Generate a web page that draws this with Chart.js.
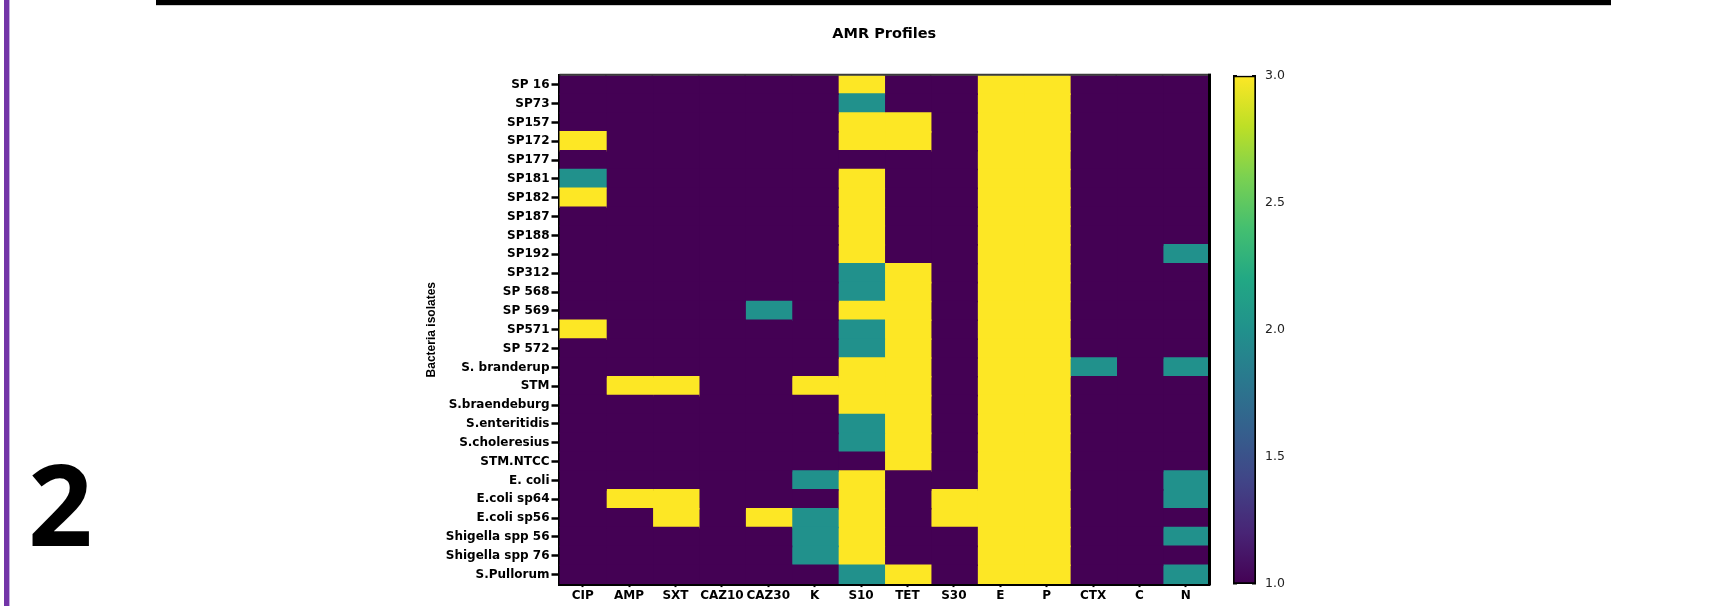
<!DOCTYPE html>
<html>
<head>
<meta charset="utf-8">
<title>AMR Profiles</title>
<script src="https://cdn.jsdelivr.net/npm/chart.js@4.4.1/dist/chart.umd.min.js"></script>
<style>
  html, body { margin: 0; padding: 0; background: #fff; }
  body { position: relative; width: 1722px; height: 606px; overflow: hidden; }
  .topbar { position: absolute; left: 156px; top: 0; width: 1455px; height: 5px; background: #000; border-bottom: 1px solid #d0d0d0; }
  .sidebar { position: absolute; left: 4px; top: 0; width: 5px; height: 606px; background: #7335a8; border-right: 1px solid #c3aee0; }
  .panel-no { position: absolute; left: 28px; top: 445px; font: 700 113px/115px "Open Sans", sans-serif; color: #000; }
  #heatmap { position: absolute; left: 0; top: 0; }
  #scale { position: absolute; left: 1200px; top: 0; }
</style>
</head>
<body>
<div class="topbar"></div>
<div class="sidebar"></div>
<div class="panel-no">2</div>
<canvas id="heatmap" width="1722" height="606"></canvas>
<canvas id="scale" width="120" height="606"></canvas>
<script>
// Rows: isolates, top to bottom
const isolates = [
    'SP 16', 'SP73', 'SP157', 'SP172', 'SP177', 'SP181', 'SP182', 'SP187', 'SP188',
    'SP192', 'SP312', 'SP 568', 'SP 569', 'SP571', 'SP 572', 'S. branderup', 'STM',
    'S.braendeburg', 'S.enteritidis', 'S.choleresius', 'STM.NTCC', 'E. coli',
    'E.coli sp64', 'E.coli sp56', 'Shigella spp 56', 'Shigella spp 76', 'S.Pullorum'
];

// Columns: antibiotic discs
const antibiotics = ['CIP', 'AMP', 'SXT', 'CAZ10', 'CAZ30', 'K', 'S10', 'TET', 'S30', 'E', 'P', 'CTX', 'C', 'N'];

// Resistance level of each isolate, one entry per antibiotic (same order as above)
const profiles = [
    [1, 1, 1, 1, 1, 1, 3, 1, 1, 3, 3, 1, 1, 1], // SP 16
    [1, 1, 1, 1, 1, 1, 2, 1, 1, 3, 3, 1, 1, 1], // SP73
    [1, 1, 1, 1, 1, 1, 3, 3, 1, 3, 3, 1, 1, 1], // SP157
    [3, 1, 1, 1, 1, 1, 3, 3, 1, 3, 3, 1, 1, 1], // SP172
    [1, 1, 1, 1, 1, 1, 1, 1, 1, 3, 3, 1, 1, 1], // SP177
    [2, 1, 1, 1, 1, 1, 3, 1, 1, 3, 3, 1, 1, 1], // SP181
    [3, 1, 1, 1, 1, 1, 3, 1, 1, 3, 3, 1, 1, 1], // SP182
    [1, 1, 1, 1, 1, 1, 3, 1, 1, 3, 3, 1, 1, 1], // SP187
    [1, 1, 1, 1, 1, 1, 3, 1, 1, 3, 3, 1, 1, 1], // SP188
    [1, 1, 1, 1, 1, 1, 3, 1, 1, 3, 3, 1, 1, 2], // SP192
    [1, 1, 1, 1, 1, 1, 2, 3, 1, 3, 3, 1, 1, 1], // SP312
    [1, 1, 1, 1, 1, 1, 2, 3, 1, 3, 3, 1, 1, 1], // SP 568
    [1, 1, 1, 1, 2, 1, 3, 3, 1, 3, 3, 1, 1, 1], // SP 569
    [3, 1, 1, 1, 1, 1, 2, 3, 1, 3, 3, 1, 1, 1], // SP571
    [1, 1, 1, 1, 1, 1, 2, 3, 1, 3, 3, 1, 1, 1], // SP 572
    [1, 1, 1, 1, 1, 1, 3, 3, 1, 3, 3, 2, 1, 2], // S. branderup
    [1, 3, 3, 1, 1, 3, 3, 3, 1, 3, 3, 1, 1, 1], // STM
    [1, 1, 1, 1, 1, 1, 3, 3, 1, 3, 3, 1, 1, 1], // S.braendeburg
    [1, 1, 1, 1, 1, 1, 2, 3, 1, 3, 3, 1, 1, 1], // S.enteritidis
    [1, 1, 1, 1, 1, 1, 2, 3, 1, 3, 3, 1, 1, 1], // S.choleresius
    [1, 1, 1, 1, 1, 1, 1, 3, 1, 3, 3, 1, 1, 1], // STM.NTCC
    [1, 1, 1, 1, 1, 2, 3, 1, 1, 3, 3, 1, 1, 2], // E. coli
    [1, 3, 3, 1, 1, 1, 3, 1, 3, 3, 3, 1, 1, 2], // E.coli sp64
    [1, 1, 3, 1, 3, 2, 3, 1, 3, 3, 3, 1, 1, 1], // E.coli sp56
    [1, 1, 1, 1, 1, 2, 3, 1, 1, 3, 3, 1, 1, 2], // Shigella spp 56
    [1, 1, 1, 1, 1, 2, 3, 1, 1, 3, 3, 1, 1, 1], // Shigella spp 76
    [1, 1, 1, 1, 1, 1, 2, 3, 1, 3, 3, 1, 1, 2]  // S.Pullorum
];

// Colour bar range
const levelMin = 1;
const levelMax = 3;
const levelStep = 0.5;

// viridis colour map
const viridisStops = ['#440154', '#482475', '#414487', '#355f8d', '#2a788e', '#21918c',
                      '#22a884', '#44bf70', '#7ad151', '#bddf26', '#fde725'];

function hexToRgb(h) {
    return [1, 3, 5].map(i => parseInt(h.substr(i, 2), 16));
}

function viridis(t) {
    t = Math.min(1, Math.max(0, t));
    const pos = t * (viridisStops.length - 1);
    const i = Math.min(Math.floor(pos), viridisStops.length - 2);
    const f = pos - i;
    const a = hexToRgb(viridisStops[i]);
    const b = hexToRgb(viridisStops[i + 1]);
    const c = a.map((v, k) => Math.round(v + (b[k] - v) * f));
    return `rgb(${c[0]}, ${c[1]}, ${c[2]})`;
}

const levelColor = v => viridis((v - levelMin) / (levelMax - levelMin));

const tickFont = { family: 'DejaVu Sans', size: 12, weight: 'bold' };

// top and right edges of the plot frame
const frameEdges = {
    id: 'frameEdges',
    afterDraw(chart) {
        const { ctx, chartArea: a } = chart;
        ctx.save();
        ctx.lineWidth = 2;
        ctx.strokeStyle = '#3a3a3a';
        ctx.beginPath();
        ctx.moveTo(a.left, a.top - 0.5);
        ctx.lineTo(a.right + 2, a.top - 0.5);
        ctx.stroke();
        ctx.lineWidth = 3;
        ctx.strokeStyle = '#000';
        ctx.beginPath();
        ctx.moveTo(a.right + 0.5, a.top - 1.5);
        ctx.lineTo(a.right + 0.5, a.bottom + 1.5);
        ctx.stroke();
        ctx.restore();
    }
};

// Heatmap: one floating bar per cell, one dataset per antibiotic column
const heatmap = new Chart(document.getElementById('heatmap').getContext('2d'), {
    type: 'bar',
    data: {
        labels: isolates,
        datasets: antibiotics.map((name, c) => ({
            label: name,
            data: isolates.map(() => [c, c + 1]),
            backgroundColor: profiles.map(row => levelColor(row[c])),
            borderWidth: 0,
            inflateAmount: 0.8,
            grouped: false,
            barPercentage: 1,
            categoryPercentage: 1
        }))
    },
    options: {
        indexAxis: 'y',
        responsive: false,
        animation: false,
        layout: { padding: { left: 420, right: 513, top: 0, bottom: 0 } },
        plugins: {
            legend: { display: false },
            tooltip: { enabled: false },
            title: {
                display: true,
                text: 'AMR Profiles',
                fullSize: false,
                color: '#000',
                font: { family: 'DejaVu Sans', size: 14.5, weight: 'bold' },
                padding: { top: 25.3, bottom: 32.6 }
            }
        },
        scales: {
            x: {
                type: 'linear',
                min: 0,
                max: antibiotics.length,
                z: 1,
                afterBuildTicks: axis => {
                    axis.ticks = antibiotics.map((_, i) => ({ value: i + 0.5 }));
                },
                afterFit: axis => { axis.height = 21.9; },
                grid: { drawOnChartArea: false, tickLength: 3, tickWidth: 2, tickColor: '#000' },
                border: { color: '#000', width: 3 },
                ticks: {
                    autoSkip: false,
                    maxRotation: 0,
                    padding: 1.5,
                    color: '#000',
                    font: tickFont,
                    callback: (value, index) => antibiotics[index]
                }
            },
            y: {
                type: 'category',
                offset: true,
                z: 1,
                afterFit: axis => { axis.width = 139.5; },
                grid: { offset: false, drawOnChartArea: false, tickLength: 8, tickWidth: 2.5, tickColor: '#000' },
                border: { color: '#000', width: 3 },
                ticks: { autoSkip: false, padding: 2, color: '#000', font: tickFont },
                title: {
                    display: true,
                    text: 'Bacteria isolates',
                    color: '#000',
                    font: { family: 'Liberation Sans', size: 12, weight: 'bold' },
                    padding: { top: 4.3, bottom: 0 }
                }
            }
        }
    },
    plugins: [frameEdges]
});

// Colour bar: a single floating bar spanning the level range
function barGradient(context) {
    const area = context.chart.chartArea;
    if (!area) return levelColor(levelMin);
    const g = context.chart.ctx.createLinearGradient(0, area.bottom, 0, area.top);
    viridisStops.forEach((col, i) => g.addColorStop(i / (viridisStops.length - 1), col));
    return g;
}

const colorScale = new Chart(document.getElementById('scale').getContext('2d'), {
    type: 'bar',
    data: {
        labels: [''],
        datasets: [{
            data: [[levelMin, levelMax]],
            backgroundColor: barGradient,
            borderColor: '#000',
            borderWidth: 2,
            borderSkipped: false,
            barPercentage: 1,
            categoryPercentage: 1
        }]
    },
    options: {
        responsive: false,
        animation: false,
        layout: { padding: { left: 33, right: 0, top: 75.7, bottom: 22 } },
        plugins: { legend: { display: false }, tooltip: { enabled: false } },
        scales: {
            x: { display: false },
            y: {
                position: 'right',
                min: levelMin,
                max: levelMax,
                z: 1,
                afterFit: axis => { axis.width = 64; },
                grid: { drawTicks: false, color: '#000', lineWidth: 1.5 },
                border: { display: false, dash: [4, 15] },
                ticks: {
                    stepSize: levelStep,
                    padding: 9,
                    color: '#222',
                    font: { family: 'DejaVu Sans', size: 12.5 },
                    callback: v => v.toFixed(1)
                }
            }
        }
    }
});
</script>
</body>
</html>
